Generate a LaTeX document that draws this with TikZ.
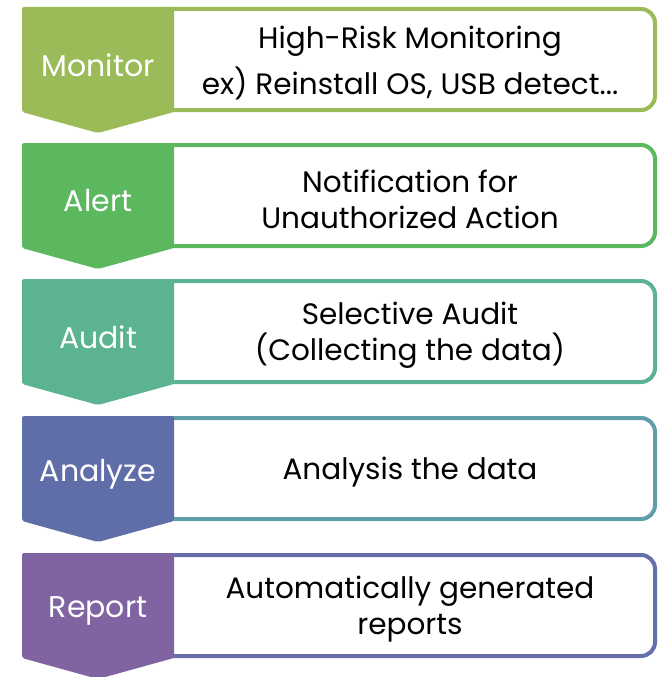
\documentclass[tikz,border=0pt]{standalone}
\usepackage{fontspec}
\setmainfont{Poppins}
\definecolor{monitorcol}{HTML}{9BBB59}
\definecolor{alertcol}{HTML}{5CB85F}
\definecolor{auditcol}{HTML}{5BB391}
\definecolor{analyzecol}{HTML}{5F6EA8}
\definecolor{reportcol}{HTML}{8064A1}
\definecolor{analyzeedge}{HTML}{5F9EAA}
\definecolor{reportedge}{HTML}{6570AB}
\tikzset{
  stagebox/.style={line width=4pt, rounded corners=14pt, fill=white},
  stagelabel/.style={text=white, font=\fontsize{30}{36}\selectfont},
  stagetext/.style={align=center, text=black, font=\fontsize{29.5}{36}\selectfont},
}
\begin{document}
\begin{tikzpicture}[x=1pt,y=-1pt]
  \useasboundingbox (0,0) rectangle (667,677);

  %Stages
  \foreach \y/\tag/\col/\edge/\name/\txt in {
      7/monitor/monitorcol/monitorcol/Monitor/{High-Risk Monitoring\\[10pt]ex) Reinstall OS, USB detect...},
      143/alert/alertcol/alertcol/Alert/{Notification for\\Unauthorized Action},
      279/audit/auditcol/auditcol/Audit/{Selective Audit\\(Collecting the data)},
      416/analyze/analyzecol/analyzeedge/Analyze/{Analysis the data},
      553/report/reportcol/reportedge/Report/{Automatically generated\\reports}}
  {
    \draw[stagebox, draw=\edge] (150,\y+2) rectangle (655,\y+103);
    \fill[\col, rounded corners=2pt] (22,\y) -- (174,\y) -- (174,\y+105)
      -- (98,\y+126) -- (22,\y+105) -- cycle;
    \node[stagelabel] (\tag-label) at (98,\y+58) {\name};
    \node[stagetext] (\tag-text) at (410,\y+56) {\txt};
  }
\end{tikzpicture}
\end{document}
